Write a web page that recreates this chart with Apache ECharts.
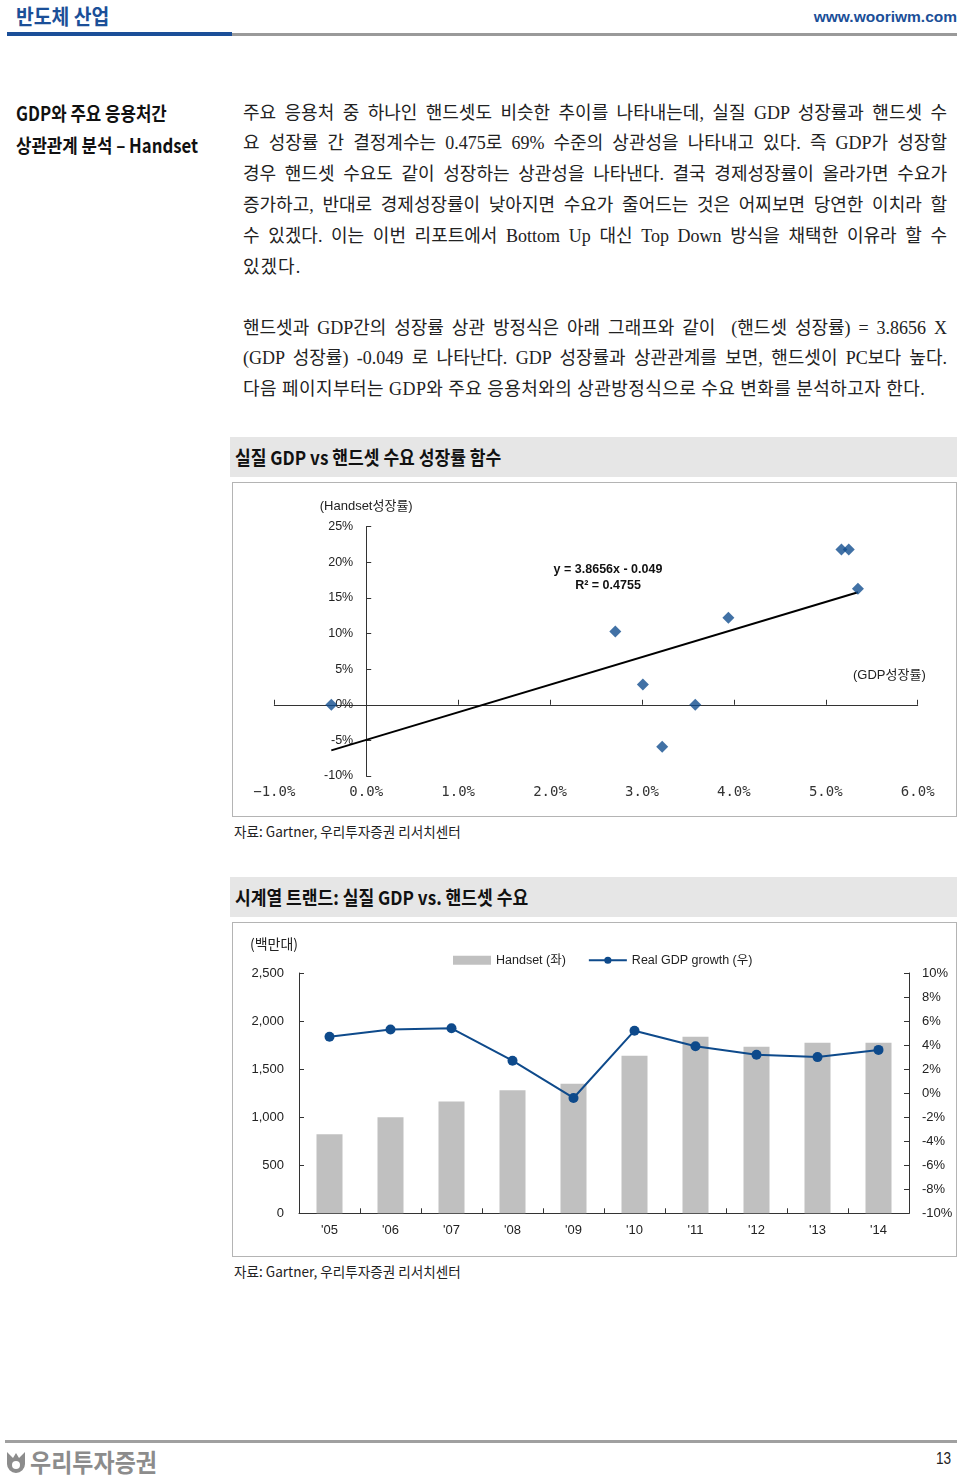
<!DOCTYPE html>
<html><head><meta charset="utf-8">
<script src="https://cdn.jsdelivr.net/npm/echarts@6/dist/echarts.min.js"></script>
<style>
body{margin:0;background:#fff;}
#page{position:relative;width:960px;height:1477px;overflow:hidden;font-family:"Noto Sans CJK KR","Liberation Sans",sans-serif;color:#111;}
.abs{position:absolute;white-space:nowrap;}
.body{position:absolute;left:243px;width:704px;font-family:"Liberation Serif","Noto Sans CJK KR",serif;font-size:18px;color:#222;}
.body div{height:30.8px;line-height:30.8px;text-align:justify;text-align-last:justify;}
.body div.last{text-align-last:left;white-space:nowrap;}
.band{position:absolute;left:230px;width:727px;height:40px;background:#e6e6e6;}
.band span{position:absolute;left:5px;top:0;line-height:40px;font-size:19px;font-weight:700;color:#111;transform:scaleX(0.9);transform-origin:left center;white-space:nowrap;}
.box{position:absolute;border:1px solid #b4b4b4;box-sizing:border-box;}
.src{position:absolute;left:234px;font-size:14px;color:#222;transform:scaleX(0.97);transform-origin:left center;white-space:nowrap;line-height:18px;}
</style></head>
<body><div id="page">
  <div class="abs" style="left:16px;top:1px;font-size:21px;line-height:28px;font-weight:700;color:#1b4f98;transform:scaleX(0.92);transform-origin:left center;">반도체 산업</div>
  <div class="abs" style="right:3px;top:7px;font-size:15.5px;line-height:20px;font-weight:700;color:#1b4f98;font-family:'Liberation Sans',sans-serif;">www.wooriwm.com</div>
  <div class="abs" style="left:7px;top:32px;width:225px;height:4px;background:#1b4f98;"></div>
  <div class="abs" style="left:232px;top:33px;width:725px;height:3px;background:#9a9a9a;"></div>

  <div class="abs" style="left:16px;top:100px;font-size:19.5px;line-height:26px;font-weight:700;transform:scaleX(0.86);transform-origin:left center;">GDP와 주요 응용처간</div>
  <div class="abs" style="left:16px;top:132px;font-size:19.5px;line-height:26px;font-weight:700;transform:scaleX(0.86);transform-origin:left center;">상관관계 분석 – Handset</div>

  <div class="body" style="top:97.6px;">
    <div>주요 응용처 중 하나인 핸드셋도 비슷한 추이를 나타내는데, 실질 GDP 성장률과 핸드셋 수</div>
    <div>요 성장률 간 결정계수는 0.475로 69% 수준의 상관성을 나타내고 있다. 즉 GDP가 성장할</div>
    <div>경우 핸드셋 수요도 같이 성장하는 상관성을 나타낸다. 결국 경제성장률이 올라가면 수요가</div>
    <div>증가하고, 반대로 경제성장률이 낮아지면 수요가 줄어드는 것은 어찌보면 당연한 이치라 할</div>
    <div>수 있겠다. 이는 이번 리포트에서 Bottom Up 대신 Top Down 방식을 채택한 이유라 할 수</div>
    <div class="last" style="letter-spacing:1px;">있겠다.</div>
  </div>
  <div class="body" style="top:312.6px;">
    <div>핸드셋과 GDP간의 성장률 상관 방정식은 아래 그래프와 같이 &nbsp;(핸드셋 성장률) = 3.8656 X</div>
    <div>(GDP 성장률) -0.049 로 나타난다. GDP 성장률과 상관관계를 보면, 핸드셋이 PC보다 높다.</div>
    <div class="last" style="letter-spacing:0.45px;">다음 페이지부터는 GDP와 주요 응용처와의 상관방정식으로 수요 변화를 분석하고자 한다.</div>
  </div>

  <div class="band" style="top:437px;"><span>실질 GDP vs 핸드셋 수요 성장률 함수</span></div>
  <div class="box" style="left:232px;top:482px;width:725px;height:335px;"><div id="c1" style="width:723px;height:333px;"></div></div>
  <div class="src" style="top:822px;">자료: Gartner, 우리투자증권 리서치센터</div>

  <div class="band" style="top:877px;"><span>시계열 트랜드: 실질 GDP vs. 핸드셋 수요</span></div>
  <div class="box" style="left:232px;top:922px;width:725px;height:335px;"><div id="c2" style="width:723px;height:333px;"></div></div>
  <div class="src" style="top:1262px;">자료: Gartner, 우리투자증권 리서치센터</div>

  <div class="abs" style="left:5px;top:1440px;width:952px;height:3px;background:#a0a0a0;"></div>
  <svg class="abs" style="left:5px;top:1450px;" width="22" height="24" viewBox="0 0 22 24">
    <path d="M2 2 L8 8 L11 3 L14 8 L20 2 L20 14 A9 9 0 0 1 2 14 Z" fill="#8c8c8c"/>
    <circle cx="11" cy="15" r="4" fill="#fff"/>
  </svg>
  <div class="abs" style="left:30px;top:1446px;font-size:25px;line-height:30px;font-weight:700;color:#8c8c8c;transform:scaleX(0.92);transform-origin:left center;">우리투자증권</div>
  <div class="abs" style="left:936px;top:1449px;font-size:16px;line-height:20px;color:#222;font-family:'Liberation Sans',sans-serif;transform:scaleX(0.85);transform-origin:left center;">13</div>
</div>
<script>
// ---- Chart 1: scatter of real GDP growth (%) vs handset growth (%) ----
const scatterGdp = [-0.38, 2.71, 3.01, 3.22, 3.58, 3.94, 5.17, 5.25, 5.35];
const scatterHandset = [0.0, 10.3, 2.85, -5.9, 0.0, 12.2, 21.8, 21.8, 16.3];
const trendGdp = [-0.38, 5.35];
const trendHandset = [-6.4, 15.8];
const equationLines = ['y = 3.8656x - 0.049', 'R² = 0.4755'];

// ---- Chart 2: time series ----
const years = ["'05", "'06", "'07", "'08", "'09", "'10", "'11", "'12", "'13", "'14"];
const handsetUnits = [823, 1000, 1163, 1281, 1347, 1639, 1836, 1732, 1774, 1774];
const gdpGrowth = [4.7, 5.3, 5.4, 2.7, -0.4, 5.2, 3.9, 3.2, 3.0, 3.6];

const FF = "'Liberation Sans','Noto Sans CJK KR',sans-serif";

// plot area of chart 1 (x: -1%..6%, y: -10%..25%)
const g1 = {left: 41.3, top: 43.7, width: 643.4, height: 249.3};
// x position (within the container) of the 0% GDP value: y-axis labels sit there
const zeroX = g1.left + g1.width * (0 - (-1)) / (6 - (-1));

const c1 = echarts.init(document.getElementById('c1'), null, {renderer:'canvas'});
c1.setOption({
  animation: false,
  textStyle: {fontFamily: FF},
  grid: [g1, {left: zeroX, top: g1.top, width: 1, height: g1.height}],
  xAxis: [
    {type: 'value', gridIndex: 0, min: -1, max: 6, interval: 1, position: 'bottom',
     axisLine: {show: true, onZero: true, lineStyle: {color: '#333', width: 1}},
     axisTick: {show: true, inside: true, length: 5, lineStyle: {color: '#333'}},
     axisLabel: {show: false}, splitLine: {show: false}},
    {type: 'value', gridIndex: 0, min: -1, max: 6, interval: 1, position: 'bottom',
     axisLine: {show: false, onZero: false}, axisTick: {show: false},
     axisLabel: {margin: 9, fontFamily: "'DejaVu Sans Mono',monospace", fontSize: 14, color: '#333',
       formatter: v => (v < 0 ? '\u2212' : '') + Math.abs(v).toFixed(1) + '%'},
     splitLine: {show: false}},
    {type: 'value', gridIndex: 1, min: 0, max: 1, show: false}
  ],
  yAxis: [
    {type: 'value', gridIndex: 0, min: -10, max: 25, interval: 5,
     name: '(Handset성장률)', nameLocation: 'end', nameGap: 14,
     nameTextStyle: {fontSize: 13, color: '#222', fontFamily: FF},
     axisLine: {show: true, onZero: true, lineStyle: {color: '#333', width: 1}},
     axisTick: {show: true, inside: true, length: 5, lineStyle: {color: '#333'}},
     axisLabel: {show: false},
     splitLine: {show: false}},
    {type: 'value', gridIndex: 1, min: -10, max: 25, interval: 5,
     axisLine: {show: false, onZero: false}, axisTick: {show: false},
     axisLabel: {margin: 13, fontSize: 12.5, color: '#222', formatter: '{value}%'},
     splitLine: {show: false}}
  ],
  graphic: [
    {type: 'text', left: 620, top: 186, style: {text: '(GDP성장률)', font: "13px 'Liberation Sans','Noto Sans CJK KR'", fill: '#222'}},
    {type: 'text', x: 375, y: 87, style: {text: equationLines[0], font: "bold 12.5px 'Liberation Sans'", fill: '#111', align: 'center', verticalAlign: 'middle'}},
    {type: 'text', x: 375, y: 103, style: {text: equationLines[1], font: "bold 12.5px 'Liberation Sans'", fill: '#111', align: 'center', verticalAlign: 'middle'}}
  ],
  series: [
    {type: 'line', xAxisIndex: 0, yAxisIndex: 0, data: trendGdp.map((x, i) => [x, trendHandset[i]]),
     symbol: 'none', lineStyle: {color: '#000', width: 2}, silent: true},
    {type: 'scatter', xAxisIndex: 0, yAxisIndex: 0, data: scatterGdp.map((x, i) => [x, scatterHandset[i]]),
     symbol: 'diamond', symbolSize: 12, itemStyle: {color: '#124e8f'}, z: 5}
  ]
});

const c2 = echarts.init(document.getElementById('c2'), null, {renderer:'canvas'});
c2.setOption({
  animation: false,
  textStyle: {fontFamily: FF},
  legend: {left: 215, top: 26, itemWidth: 38, itemHeight: 9, itemGap: 22,
    textStyle: {fontSize: 12.5, color: '#222', fontFamily: FF},
    data: [{name: 'Handset (좌)', icon: 'rect'}, {name: 'Real GDP growth (우)'}]},
  grid: {left: 66, top: 50, width: 610, height: 240.3},
  xAxis: {type: 'category', data: years,
    axisLine: {lineStyle: {color: '#333', width: 1}},
    axisTick: {show: true, inside: true, length: 5, alignWithLabel: false, lineStyle: {color: '#333'}},
    axisLabel: {margin: 11, fontSize: 13, color: '#222'}},
  yAxis: [
    {type: 'value', min: 0, max: 2500, interval: 500,
     axisLine: {show: true, lineStyle: {color: '#333', width: 1}},
     axisTick: {show: true, inside: true, length: 5, lineStyle: {color: '#333'}},
     axisLabel: {margin: 15, fontSize: 13, color: '#222', formatter: v => v.toLocaleString('en-US')},
     splitLine: {show: false}},
    {type: 'value', min: -10, max: 10, interval: 2, position: 'right',
     axisLine: {show: true, lineStyle: {color: '#333', width: 1}},
     axisTick: {show: true, inside: true, length: 5, lineStyle: {color: '#333'}},
     axisLabel: {margin: 13, fontSize: 13, color: '#222', formatter: '{value}%'},
     splitLine: {show: false}}
  ],
  graphic: [
    {type: 'text', left: 17, top: 14, style: {text: '(백만대)', font: "14px 'Noto Sans CJK KR'", fill: '#222'}}
  ],
  series: [
    {name: 'Handset (좌)', type: 'bar', data: handsetUnits, barWidth: 26, itemStyle: {color: '#c0c0c0'}},
    {name: 'Real GDP growth (우)', type: 'line', yAxisIndex: 1, data: gdpGrowth,
     symbol: 'circle', symbolSize: 10, lineStyle: {color: '#0e4a8b', width: 2}, itemStyle: {color: '#0e4a8b'}}
  ]
});
</script>
</body></html>
